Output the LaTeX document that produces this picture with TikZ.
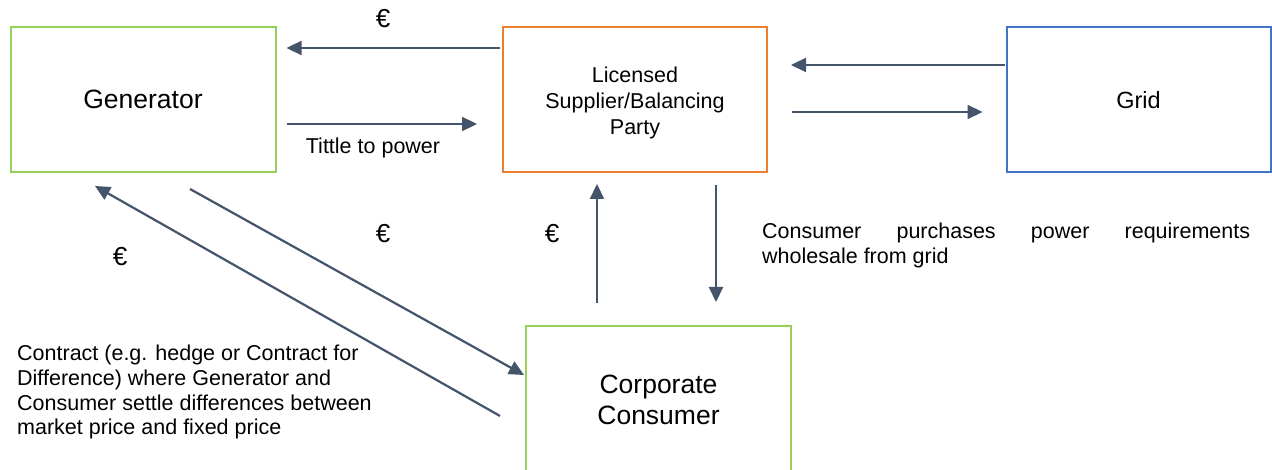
\documentclass[tikz,border=0pt]{standalone}
\usepackage{fontspec}
\setmainfont{Liberation Sans}
\usetikzlibrary{arrows.meta,calc}

\definecolor{boxgreen}{HTML}{95D15A}
\definecolor{boxorange}{HTML}{ED7D31}
\definecolor{boxblue}{HTML}{4472C4}
\definecolor{flow}{HTML}{44546A}

\newcommand{\smallfs}{\fontsize{21.5}{24.7}\selectfont}
\newcommand{\bigfs}{\fontsize{26.5}{31}\selectfont}

\tikzset{
  party/.style={draw, line width=2pt, fill=white, inner sep=0pt, align=center},
  flowarrow/.style={draw=flow, line width=2.2pt,
    -{Triangle[length=15pt,width=14pt]}, color=flow},
  note/.style={inner sep=0pt, font=\smallfs, text=black},
  euro/.style={inner sep=0pt, font=\fontsize{26}{30}\selectfont, text=black},
}

\begin{document}
\begin{tikzpicture}[x=1pt,y=-1pt]
  \useasboundingbox[fill=white] (0,0) rectangle (1272,470);
  \begin{scope}
  \clip (0,0) rectangle (1272,470);

  % the four parties
  \node[party, draw=boxgreen, minimum width=265pt, minimum height=145pt,
        font=\bigfs] (gen) at (143,99.5) {Generator};
  \node[party, draw=boxorange, minimum width=264pt, minimum height=145pt,
        font=\fontsize{21.5}{26}\selectfont] (lic) at (635,99.5)
        {\parbox{250pt}{\vspace*{6pt}\centering Licensed\\Supplier/Balancing\\Party}};
  \node[party, draw=boxblue, minimum width=264pt, minimum height=145pt,
        font=\fontsize{23.5}{28}\selectfont] (grid) at (1138.5,99.5)
        {\parbox{250pt}{\vspace*{2pt}\centering Grid}};
  \node[party, draw=boxgreen, minimum width=265pt, minimum height=152pt,
        font=\bigfs] (cons) at (658.5,402)
        {\parbox{250pt}{\centering Corporate\\Consumer\par\vspace*{4pt}}};

  % flows between generator and supplier
  \draw[flowarrow] ($(lic.west)+(-2,-51.5)$) -- ($(gen.east)+(10,-51.5)$);
  \draw[flowarrow] ($(gen.east)+(10,24.5)$) -- ($(lic.west)+(-25,24.5)$);

  % flows between supplier and grid
  \draw[flowarrow] ($(grid.west)+(-1,-34.5)$) -- ($(lic.east)+(23,-34.5)$);
  \draw[flowarrow] ($(lic.east)+(24,12.5)$) -- ($(grid.west)+(-23,12.5)$);

  % flows between consumer and supplier
  \draw[flowarrow] ($(cons.north)+(-61.5,-22)$) -- ($(lic.south)+(-38,11)$);
  \draw[flowarrow] ($(lic.south)+(81,12)$) -- ($(cons.north)+(57.5,-23)$);

  % contract flows between generator and consumer
  \draw[flowarrow] ($(gen.south)+(47,16)$) -- ($(cons.west)+(-1,-27)$);
  \draw[flowarrow] ($(cons.west)+(-25,14)$) -- ($(gen.south)+(-48,13)$);
  \end{scope}

  % labels
  \node[euro] (eurtop) at (383,19) {€};
  \node[note] (title) at (373,148) {Tittle to power};
  \node[euro] (eurmid) at (383,234) {€};
  \node[euro] (eurcons) at (552,234) {€};
  \node[euro] (eurleft) at (120,257) {€};

  \node[note, anchor=north west, align=left] (purch) at (762,223)
    {\hbox to 488pt{Consumer\hfill purchases\hfill power\hfill requirements}\\
     wholesale from grid};

  \node[note, anchor=north west, align=left] (contract) at (17,345)
    {Contract (e.g. hedge or Contract for\\
     Difference) where Generator and\\
     Consumer settle differences between\\
     market price and fixed price};
\end{tikzpicture}
\end{document}
